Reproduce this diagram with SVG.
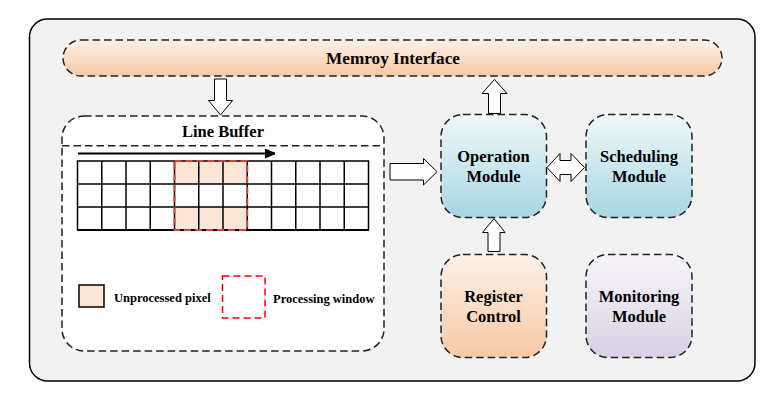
<svg xmlns="http://www.w3.org/2000/svg" width="784" height="402" viewBox="0 0 784 402">
<defs>
<linearGradient id="gOrange" x1="0" y1="0" x2="0" y2="1"><stop offset="0" stop-color="#fdf1e8"/><stop offset="1" stop-color="#f8c9a4"/></linearGradient>
<linearGradient id="gBlue" x1="0" y1="0" x2="0" y2="1"><stop offset="0" stop-color="#f1f8fb"/><stop offset="1" stop-color="#a6d6e2"/></linearGradient>
<linearGradient id="gPurple" x1="0" y1="0" x2="0" y2="1"><stop offset="0" stop-color="#f7f5fa"/><stop offset="1" stop-color="#d9d0e4"/></linearGradient>
<marker id="ah" markerWidth="10" markerHeight="10" refX="10" refY="5" orient="auto" markerUnits="userSpaceOnUse"><path d="M0,0 L12,5 L0,10 z" fill="#000"/></marker>
<style>
.dash{stroke:#222;stroke-width:1.5;stroke-dasharray:7.5 4;}
.t{font-family:'Liberation Serif','Times New Roman',serif;font-weight:bold;fill:#000;text-anchor:middle;}
.lbl{font-size:16.5px;}
.small{font-size:12.5px;text-anchor:start;}
.arr{fill:#fff;stroke:#000;stroke-width:1;}
.cell{fill:none;stroke:#000;stroke-width:1.5;}
</style>
</defs>
<rect x="0" y="0" width="784" height="402" fill="#fff"/>
<rect x="29.5" y="19" width="725.5" height="362" rx="18" fill="#f2f2f2" stroke="#000" stroke-width="1.5"/>

<g id="memory-interface">
<rect x="63" y="40" width="659" height="36" rx="18" fill="url(#gOrange)" class="dash"/>
<text class="t" font-family="Liberation Serif, serif" font-size="17.2" x="393" y="63.5">Memroy Interface</text>
</g>

<g id="line-buffer">
<rect x="62" y="116" width="322" height="235" rx="22" fill="#fff" class="dash"/>
<line x1="62" y1="145.7" x2="384" y2="145.7" class="dash"/>
<text class="t lbl" font-family="Liberation Serif, serif" x="223" y="137">Line Buffer</text>
<line x1="78" y1="153.5" x2="275" y2="153.5" stroke="#000" stroke-width="2" marker-end="url(#ah)"/>
<rect x="175" y="161" width="72.5" height="23" fill="#fbe5d6"/>
<rect x="175" y="207" width="72.5" height="23" fill="#fbe5d6"/>
<g class="cell">
<rect x="77.5" y="161" width="291" height="69"/>
<line x1="77.5" y1="184" x2="368.5" y2="184"/>
<line x1="77.5" y1="207" x2="368.5" y2="207"/>
<line x1="101.75" y1="161" x2="101.75" y2="230"/>
<line x1="126" y1="161" x2="126" y2="230"/>
<line x1="150.25" y1="161" x2="150.25" y2="230"/>
<line x1="174.5" y1="161" x2="174.5" y2="230"/>
<line x1="198.75" y1="161" x2="198.75" y2="230"/>
<line x1="223" y1="161" x2="223" y2="230"/>
<line x1="247.25" y1="161" x2="247.25" y2="230"/>
<line x1="271.5" y1="161" x2="271.5" y2="230"/>
<line x1="295.75" y1="161" x2="295.75" y2="230"/>
<line x1="320" y1="161" x2="320" y2="230"/>
<line x1="344.25" y1="161" x2="344.25" y2="230"/>
</g>
<line x1="77.5" y1="230" x2="368.5" y2="230" stroke="#000" stroke-width="2"/>
<rect x="174.5" y="161" width="72.75" height="69" fill="none" stroke="#c9483f" stroke-width="2" stroke-dasharray="7 4"/>
<rect x="79" y="285" width="25" height="22" fill="#fbe5d6" stroke="#000" stroke-width="1.5"/>
<text class="t small" font-family="Liberation Serif, serif" x="114" y="302">Unprocessed pixel</text>
<rect x="222.5" y="276" width="42.5" height="42" fill="none" stroke="#f00" stroke-width="1.5" stroke-dasharray="7 4"/>
<text class="t small" font-family="Liberation Serif, serif" x="273" y="303">Processing window</text>
</g>

<g id="operation-module">
<rect x="441" y="114.5" width="105.5" height="103" rx="22" fill="url(#gBlue)" class="dash"/>
<text class="t lbl" font-family="Liberation Serif, serif" x="493.5" y="162">Operation</text>
<text class="t lbl" font-family="Liberation Serif, serif" x="493.5" y="182">Module</text>
</g>

<g id="scheduling-module">
<rect x="586" y="114.5" width="106" height="103" rx="22" fill="url(#gBlue)" class="dash"/>
<text class="t lbl" font-family="Liberation Serif, serif" x="639" y="162">Scheduling</text>
<text class="t lbl" font-family="Liberation Serif, serif" x="639" y="182">Module</text>
</g>

<g id="register-control">
<rect x="441" y="254.5" width="105.5" height="103" rx="22" fill="url(#gOrange)" class="dash"/>
<text class="t lbl" font-family="Liberation Serif, serif" x="493.5" y="302">Register</text>
<text class="t lbl" font-family="Liberation Serif, serif" x="493.5" y="322">Control</text>
</g>

<g id="monitoring-module">
<rect x="586" y="254.5" width="106" height="103" rx="22" fill="url(#gPurple)" class="dash"/>
<text class="t lbl" font-family="Liberation Serif, serif" x="639" y="302">Monitoring</text>
<text class="t lbl" font-family="Liberation Serif, serif" x="639" y="322">Module</text>
</g>

<g id="connectors">
<path class="arr" d="M214.5,79 L226.5,79 L226.5,100.5 L232.5,100.5 L220.5,115 L208.5,100.5 L214.5,100.5 Z"/>
<path class="arr" d="M488.5,113.5 L500.5,113.5 L500.5,93.5 L507,93.5 L494.5,79.5 L482,93.5 L488.5,93.5 Z"/>
<path class="arr" d="M390,163.5 L423.5,163.5 L423.5,158.5 L437,171.7 L423.5,185 L423.5,180 L390,180 Z"/>
<path class="arr" d="M547,167.5 L560,153.5 L560,160.5 L571,160.5 L571,153.5 L584.5,167.5 L571,181.5 L571,174.5 L560,174.5 L560,181.5 Z"/>
<path class="arr" d="M488,251.5 L500,251.5 L500,232.5 L505,232.5 L494,218.5 L482.5,232.5 L488,232.5 Z"/>
</g>
</svg>
